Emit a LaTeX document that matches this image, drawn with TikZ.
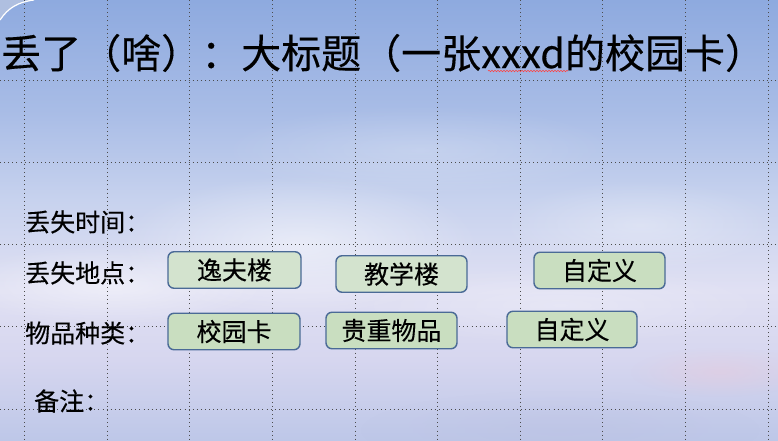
\documentclass[tikz,border=0pt]{standalone}
\usepackage{fontspec}
\setmainfont{Noto Sans CJK SC}[FakeBold=0.25]
\usetikzlibrary{fadings,decorations.pathmorphing}
\tikzfading[name=softblob, inner color=transparent!0, outer color=transparent!100]
\definecolor{skyA}{HTML}{8EAADF}
\definecolor{skyB}{HTML}{A8BCE6}
\definecolor{skyC}{HTML}{C7D2EE}
\definecolor{skyD}{HTML}{E0E0F3}
\definecolor{skyE}{HTML}{D6D6EF}
\definecolor{skyF}{HTML}{BDC7E8}
\definecolor{cornerc}{HTML}{AFBFE0}
\definecolor{boxfill}{HTML}{C9DEC0}
\definecolor{boxfillL}{HTML}{D3E3CE}
\definecolor{boxborder}{HTML}{4A6A96}
\definecolor{pinkc}{HTML}{EAC9DA}
\definecolor{lavc}{HTML}{B9BEE0}
\begin{document}
\begin{tikzpicture}[x=1bp,y=-1bp,
  gridline/.style={line width=0.9bp, dash pattern=on 0.9bp off 3.2bp, black!70},
  titletext/.style={font=\fontsize{40bp}{48bp}\selectfont, inner sep=0, anchor=west},
  labeltext/.style={font=\fontsize{25bp}{30bp}\selectfont, inner sep=0, anchor=west},
  optbox/.style={draw=boxborder, fill=boxfill, line width=1.4bp, rounded corners=6bp,
    inner sep=0, font=\fontsize{25bp}{30bp}\selectfont, minimum height=36.5bp},
  blob/.style={path fading=softblob}]
\useasboundingbox (0,0) rectangle (778,441);
% sky background
\fill[top color=skyA, bottom color=skyB] (0,0) rectangle (778,110);
\fill[top color=skyB, bottom color=skyC] (0,110) rectangle (778,200);
\fill[top color=skyC, bottom color=skyD] (0,200) rectangle (778,290);
\fill[top color=skyD, bottom color=skyE] (0,290) rectangle (778,360);
\fill[top color=skyE, bottom color=skyF] (0,360) rectangle (778,441);
% clouds
\fill[white, opacity=0.5, blob] (300,245) ellipse (180 and 70);
\fill[white, opacity=0.45, blob] (110,285) ellipse (160 and 40);
\fill[white, opacity=0.3, blob] (640,225) ellipse (140 and 45);
\fill[white, opacity=0.25, blob] (560,305) ellipse (210 and 40);
\fill[pinkc, opacity=0.45, blob] (720,372) ellipse (90 and 25);
\fill[white, opacity=0.2, blob] (420,150) ellipse (200 and 45);
\fill[lavc, opacity=0.35, blob] (560,430) ellipse (200 and 40);
% top-left arc
\fill[cornerc] (0,0) -- (0,20) .. controls (8,8) and (18,2) .. (34,0) -- cycle;
\draw[white, line width=1.2bp] (0,20) .. controls (8,8) and (18,2) .. (34,0);
% dotted grid
\foreach \gx in {24,107,189,272,355,437,520,602,685,768}
  \draw[gridline] (\gx,0) -- (\gx,441);
\foreach \gy in {80,162,244,326,409}
  \draw[gridline] (0,\gy) -- (778,\gy);
% title
\node[titletext] (title) at (1,53) {丢了（啥）：大标题（一张xxxd的校园卡）};
\draw[red!75!white, line width=0.6bp, decorate,
  decoration={snake, amplitude=0.7bp, segment length=3bp}] (488,71) -- (568,71);
% labels
\node[labeltext] (ltime)  at (25,222) {丢失时间：};
\node[labeltext] (lplace) at (25,273) {丢失地点：};
\node[labeltext] (lkind)  at (25,333) {物品种类：};
\node[labeltext] (lnote)  at (34,401) {备注：};
% option boxes
\node[optbox, fill=boxfillL, minimum width=133bp] (p1) at (234.5,270) {逸夫楼};
\node[optbox, fill=boxfillL, minimum width=131bp] (p2) at (401.5,274) {教学楼};
\node[optbox, minimum width=131bp] (p3) at (599.5,270.5) {自定义};
\node[optbox, minimum width=132bp] (k1) at (234,331.5) {校园卡};
\node[optbox, minimum width=131bp] (k2) at (391.5,330.5) {贵重物品};
\node[optbox, minimum width=130bp] (k3) at (572,329.5) {自定义};
\end{tikzpicture}
\end{document}
